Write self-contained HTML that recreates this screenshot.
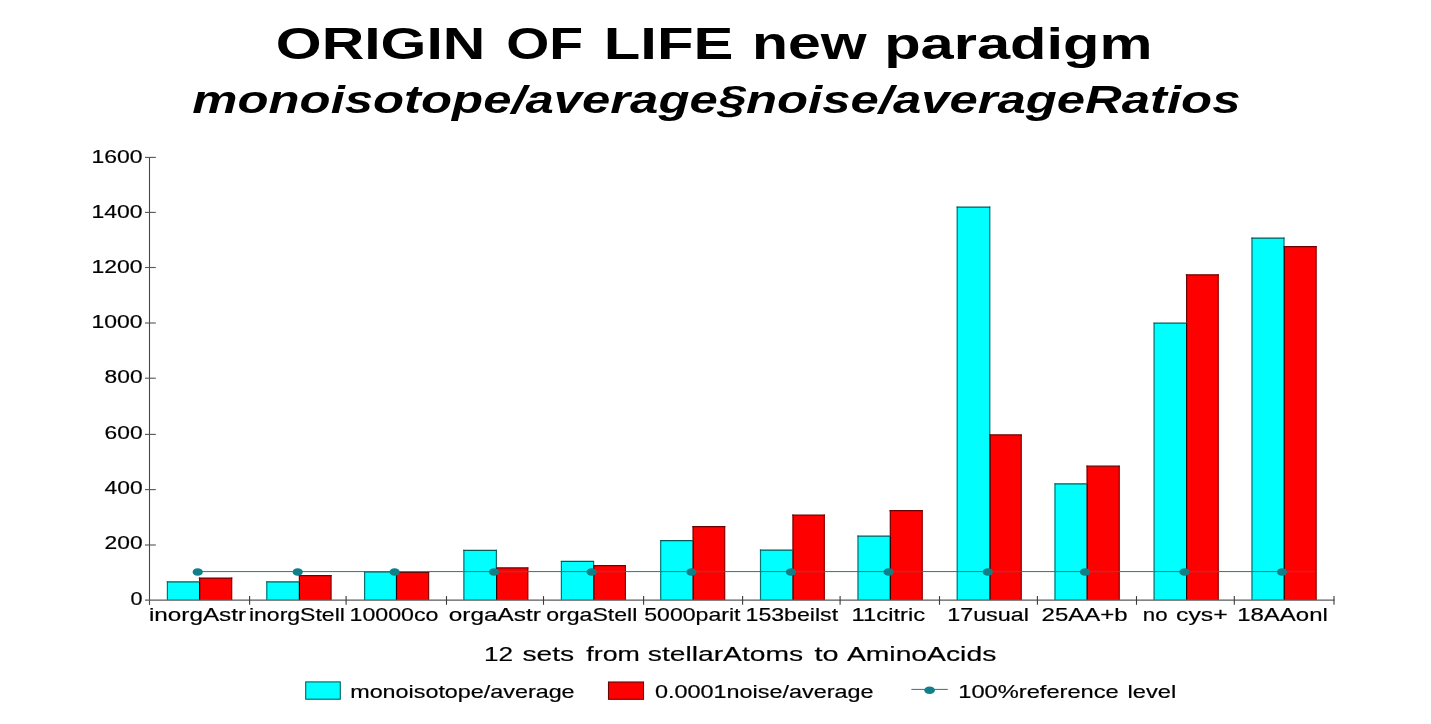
<!DOCTYPE html>
<html><head><meta charset="utf-8"><title>ORIGIN OF LIFE new paradigm</title>
<style>html,body{margin:0;padding:0;background:#fff;}body{width:1431px;height:724px;overflow:hidden;}svg{display:block;will-change:transform;}text{font-family:"Liberation Sans",sans-serif;fill:#000;}</style></head><body>
<svg width="1431" height="724" viewBox="0 0 1431 724">
<rect x="0" y="0" width="1431" height="724" fill="#ffffff"/>
<text transform="translate(275.80,58.70) scale(1.3016,1)" font-weight="bold" font-size="45.3">ORIGIN</text>
<text transform="translate(506.18,58.70) scale(1.2216,1)" font-weight="bold" font-size="45.3">OF</text>
<text transform="translate(603.74,58.70) scale(1.3202,1)" font-weight="bold" font-size="45.3">LIFE</text>
<text transform="translate(752.10,58.70) scale(1.3009,1)" font-weight="bold" font-size="45.3">new</text>
<text transform="translate(884.17,58.70) scale(1.3161,1)" font-weight="bold" font-size="45.3">paradigm</text>
<text transform="translate(192.30,112.70) scale(1.3380,1)" font-weight="bold" font-style="italic" font-size="38">monoisotope/average§noise/averageRatios</text>
<text transform="translate(130.60,604.65) scale(1.2000,1)" font-size="18" stroke="#000" stroke-width="0.18">0</text>
<text transform="translate(104.60,549.20) scale(1.2658,1)" font-size="18" stroke="#000" stroke-width="0.18">200</text>
<text transform="translate(104.60,494.20) scale(1.2658,1)" font-size="18" stroke="#000" stroke-width="0.18">400</text>
<text transform="translate(104.60,439.20) scale(1.2658,1)" font-size="18" stroke="#000" stroke-width="0.18">600</text>
<text transform="translate(104.60,382.70) scale(1.2658,1)" font-size="18" stroke="#000" stroke-width="0.18">800</text>
<text transform="translate(91.52,327.70) scale(1.2759,1)" font-size="18" stroke="#000" stroke-width="0.18">1000</text>
<text transform="translate(91.52,272.70) scale(1.2759,1)" font-size="18" stroke="#000" stroke-width="0.18">1200</text>
<text transform="translate(91.52,217.70) scale(1.2759,1)" font-size="18" stroke="#000" stroke-width="0.18">1400</text>
<text transform="translate(91.52,162.70) scale(1.2759,1)" font-size="18" stroke="#000" stroke-width="0.18">1600</text>
<text transform="translate(148.95,620.60) scale(1.3487,1)" font-size="18" stroke="#000" stroke-width="0.18">inorgAstr</text>
<text transform="translate(248.92,620.60) scale(1.2787,1)" font-size="18" stroke="#000" stroke-width="0.18">inorgStell</text>
<text transform="translate(349.51,620.60) scale(1.2872,1)" font-size="18" stroke="#000" stroke-width="0.18">10000co</text>
<text transform="translate(448.70,620.60) scale(1.3552,1)" font-size="18" stroke="#000" stroke-width="0.18">orgaAstr</text>
<text transform="translate(546.15,620.60) scale(1.2842,1)" font-size="18" stroke="#000" stroke-width="0.18">orgaStell</text>
<text transform="translate(644.20,620.60) scale(1.2843,1)" font-size="18" stroke="#000" stroke-width="0.18">5000parit</text>
<text transform="translate(745.51,620.60) scale(1.2864,1)" font-size="18" stroke="#000" stroke-width="0.18">153beilst</text>
<text transform="translate(851.58,620.60) scale(1.3204,1)" font-size="18" stroke="#000" stroke-width="0.18">11citric</text>
<text transform="translate(947.20,620.60) scale(1.2956,1)" font-size="18" stroke="#000" stroke-width="0.18">17usual</text>
<text transform="translate(1041.60,620.60) scale(1.3340,1)" font-size="18" stroke="#000" stroke-width="0.18">25AA+b</text>
<text transform="translate(1142.86,620.60) scale(1.2361,1)" font-size="18" stroke="#000" stroke-width="0.18">no</text>
<text transform="translate(1176.10,620.60) scale(1.3757,1)" font-size="18" stroke="#000" stroke-width="0.18">cys+</text>
<text transform="translate(1237.17,620.60) scale(1.3337,1)" font-size="18" stroke="#000" stroke-width="0.18">18AAonl</text>
<text transform="translate(484.04,661.10) scale(1.2612,1)" font-size="20.8" stroke="#000" stroke-width="0.18">12</text>
<text transform="translate(522.50,661.10) scale(1.3566,1)" font-size="20.8" stroke="#000" stroke-width="0.18">sets</text>
<text transform="translate(586.30,661.10) scale(1.2888,1)" font-size="20.8" stroke="#000" stroke-width="0.18">from</text>
<text transform="translate(647.80,661.10) scale(1.3577,1)" font-size="20.8" stroke="#000" stroke-width="0.18">stellarAtoms</text>
<text transform="translate(814.50,661.10) scale(1.3887,1)" font-size="20.8" stroke="#000" stroke-width="0.18">to</text>
<text transform="translate(846.90,661.10) scale(1.3610,1)" font-size="20.8" stroke="#000" stroke-width="0.18">AminoAcids</text>
<text transform="translate(350.20,697.80) scale(1.2974,1)" font-size="18" stroke="#000" stroke-width="0.18">monoisotope/average</text>
<text transform="translate(654.90,697.80) scale(1.3008,1)" font-size="18" stroke="#000" stroke-width="0.18">0.0001noise/average</text>
<text transform="translate(958.28,697.80) scale(1.3158,1)" font-size="18" stroke="#000" stroke-width="0.18">100%reference</text>
<text transform="translate(1127.48,697.80) scale(1.3164,1)" font-size="18" stroke="#000" stroke-width="0.18">level</text>
<rect x="167.1" y="581.9" width="32.2" height="18.1" fill="#00ffff"/>
<rect x="199.3" y="578.0" width="32.7" height="22.0" fill="#ff0000"/>
<line x1="167.4" y1="581.4" x2="167.4" y2="600.0" stroke="#087474" stroke-width="1.2"/>
<line x1="231.7" y1="577.5" x2="231.7" y2="600.0" stroke="#8a0404" stroke-width="1.2"/>
<line x1="199.6" y1="581.4" x2="199.6" y2="600.0" stroke="#240404" stroke-width="1.2"/>
<line x1="199.6" y1="577.5" x2="199.6" y2="581.4" stroke="#700404" stroke-width="1.2"/>
<line x1="166.8" y1="581.9" x2="199.8" y2="581.9" stroke="#085858" stroke-width="1.25"/>
<line x1="198.8" y1="578.0" x2="232.3" y2="578.0" stroke="#6c0202" stroke-width="1.25"/>
<rect x="266.5" y="581.9" width="32.6" height="18.1" fill="#00ffff"/>
<rect x="299.1" y="575.6" width="32.2" height="24.4" fill="#ff0000"/>
<line x1="266.8" y1="581.4" x2="266.8" y2="600.0" stroke="#087474" stroke-width="1.2"/>
<line x1="331.0" y1="575.1" x2="331.0" y2="600.0" stroke="#8a0404" stroke-width="1.2"/>
<line x1="299.4" y1="581.4" x2="299.4" y2="600.0" stroke="#240404" stroke-width="1.2"/>
<line x1="299.4" y1="575.1" x2="299.4" y2="581.4" stroke="#700404" stroke-width="1.2"/>
<line x1="266.2" y1="581.9" x2="299.6" y2="581.9" stroke="#085858" stroke-width="1.25"/>
<line x1="298.6" y1="575.6" x2="331.6" y2="575.6" stroke="#6c0202" stroke-width="1.25"/>
<rect x="364.3" y="571.8" width="31.9" height="28.2" fill="#00ffff"/>
<rect x="396.2" y="572.3" width="32.7" height="27.7" fill="#ff0000"/>
<line x1="364.6" y1="571.3" x2="364.6" y2="600.0" stroke="#087474" stroke-width="1.2"/>
<line x1="428.6" y1="571.8" x2="428.6" y2="600.0" stroke="#8a0404" stroke-width="1.2"/>
<line x1="396.5" y1="571.8" x2="396.5" y2="600.0" stroke="#240404" stroke-width="1.2"/>
<line x1="396.3" y1="571.3" x2="396.3" y2="571.8" stroke="#0a6c6c" stroke-width="1.2"/>
<line x1="364.0" y1="571.8" x2="396.7" y2="571.8" stroke="#085858" stroke-width="1.25"/>
<line x1="395.7" y1="572.3" x2="429.2" y2="572.3" stroke="#6c0202" stroke-width="1.25"/>
<rect x="463.6" y="550.3" width="32.7" height="49.7" fill="#00ffff"/>
<rect x="496.3" y="567.9" width="31.8" height="32.1" fill="#ff0000"/>
<line x1="463.9" y1="549.8" x2="463.9" y2="600.0" stroke="#087474" stroke-width="1.2"/>
<line x1="527.8" y1="567.4" x2="527.8" y2="600.0" stroke="#8a0404" stroke-width="1.2"/>
<line x1="496.6" y1="567.4" x2="496.6" y2="600.0" stroke="#240404" stroke-width="1.2"/>
<line x1="496.4" y1="549.8" x2="496.4" y2="567.4" stroke="#0a6c6c" stroke-width="1.2"/>
<line x1="463.3" y1="550.3" x2="496.8" y2="550.3" stroke="#085858" stroke-width="1.25"/>
<line x1="495.8" y1="567.9" x2="528.4" y2="567.9" stroke="#6c0202" stroke-width="1.25"/>
<rect x="561.1" y="561.4" width="32.4" height="38.6" fill="#00ffff"/>
<rect x="593.5" y="565.6" width="32.2" height="34.4" fill="#ff0000"/>
<line x1="561.4" y1="560.9" x2="561.4" y2="600.0" stroke="#087474" stroke-width="1.2"/>
<line x1="625.4" y1="565.1" x2="625.4" y2="600.0" stroke="#8a0404" stroke-width="1.2"/>
<line x1="593.8" y1="565.1" x2="593.8" y2="600.0" stroke="#240404" stroke-width="1.2"/>
<line x1="593.6" y1="560.9" x2="593.6" y2="565.1" stroke="#0a6c6c" stroke-width="1.2"/>
<line x1="560.8" y1="561.4" x2="594.0" y2="561.4" stroke="#085858" stroke-width="1.25"/>
<line x1="593.0" y1="565.6" x2="626.0" y2="565.6" stroke="#6c0202" stroke-width="1.25"/>
<rect x="660.4" y="540.5" width="32.4" height="59.5" fill="#00ffff"/>
<rect x="692.8" y="526.5" width="32.2" height="73.5" fill="#ff0000"/>
<line x1="660.7" y1="540.0" x2="660.7" y2="600.0" stroke="#087474" stroke-width="1.2"/>
<line x1="724.7" y1="526.0" x2="724.7" y2="600.0" stroke="#8a0404" stroke-width="1.2"/>
<line x1="693.1" y1="540.0" x2="693.1" y2="600.0" stroke="#240404" stroke-width="1.2"/>
<line x1="693.1" y1="526.0" x2="693.1" y2="540.0" stroke="#700404" stroke-width="1.2"/>
<line x1="660.1" y1="540.5" x2="693.3" y2="540.5" stroke="#085858" stroke-width="1.25"/>
<line x1="692.3" y1="526.5" x2="725.3" y2="526.5" stroke="#6c0202" stroke-width="1.25"/>
<rect x="760.2" y="550.0" width="32.5" height="50.0" fill="#00ffff"/>
<rect x="792.7" y="515.1" width="31.9" height="84.9" fill="#ff0000"/>
<line x1="760.5" y1="549.5" x2="760.5" y2="600.0" stroke="#087474" stroke-width="1.2"/>
<line x1="824.3" y1="514.6" x2="824.3" y2="600.0" stroke="#8a0404" stroke-width="1.2"/>
<line x1="793.0" y1="549.5" x2="793.0" y2="600.0" stroke="#240404" stroke-width="1.2"/>
<line x1="793.0" y1="514.6" x2="793.0" y2="549.5" stroke="#700404" stroke-width="1.2"/>
<line x1="759.9" y1="550.0" x2="793.2" y2="550.0" stroke="#085858" stroke-width="1.25"/>
<line x1="792.2" y1="515.1" x2="824.9" y2="515.1" stroke="#6c0202" stroke-width="1.25"/>
<rect x="857.7" y="536.1" width="32.3" height="63.9" fill="#00ffff"/>
<rect x="890.0" y="510.6" width="32.5" height="89.4" fill="#ff0000"/>
<line x1="858.0" y1="535.6" x2="858.0" y2="600.0" stroke="#087474" stroke-width="1.2"/>
<line x1="922.2" y1="510.1" x2="922.2" y2="600.0" stroke="#8a0404" stroke-width="1.2"/>
<line x1="890.3" y1="535.6" x2="890.3" y2="600.0" stroke="#240404" stroke-width="1.2"/>
<line x1="890.3" y1="510.1" x2="890.3" y2="535.6" stroke="#700404" stroke-width="1.2"/>
<line x1="857.4" y1="536.1" x2="890.5" y2="536.1" stroke="#085858" stroke-width="1.25"/>
<line x1="889.5" y1="510.6" x2="922.8" y2="510.6" stroke="#6c0202" stroke-width="1.25"/>
<rect x="956.9" y="207.0" width="32.8" height="393.0" fill="#00ffff"/>
<rect x="989.7" y="434.9" width="31.8" height="165.1" fill="#ff0000"/>
<line x1="957.2" y1="206.5" x2="957.2" y2="600.0" stroke="#087474" stroke-width="1.2"/>
<line x1="1021.2" y1="434.4" x2="1021.2" y2="600.0" stroke="#8a0404" stroke-width="1.2"/>
<line x1="990.0" y1="434.4" x2="990.0" y2="600.0" stroke="#240404" stroke-width="1.2"/>
<line x1="989.8" y1="206.5" x2="989.8" y2="434.4" stroke="#0a6c6c" stroke-width="1.2"/>
<line x1="956.6" y1="207.0" x2="990.2" y2="207.0" stroke="#085858" stroke-width="1.25"/>
<line x1="989.2" y1="434.9" x2="1021.8" y2="434.9" stroke="#6c0202" stroke-width="1.25"/>
<rect x="1054.7" y="483.9" width="32.1" height="116.1" fill="#00ffff"/>
<rect x="1086.8" y="466.2" width="32.7" height="133.8" fill="#ff0000"/>
<line x1="1055.0" y1="483.4" x2="1055.0" y2="600.0" stroke="#087474" stroke-width="1.2"/>
<line x1="1119.2" y1="465.8" x2="1119.2" y2="600.0" stroke="#8a0404" stroke-width="1.2"/>
<line x1="1087.1" y1="483.4" x2="1087.1" y2="600.0" stroke="#240404" stroke-width="1.2"/>
<line x1="1087.1" y1="465.8" x2="1087.1" y2="483.4" stroke="#700404" stroke-width="1.2"/>
<line x1="1054.4" y1="483.9" x2="1087.3" y2="483.9" stroke="#085858" stroke-width="1.25"/>
<line x1="1086.3" y1="466.2" x2="1119.8" y2="466.2" stroke="#6c0202" stroke-width="1.25"/>
<rect x="1153.8" y="323.2" width="32.5" height="276.8" fill="#00ffff"/>
<rect x="1186.3" y="274.8" width="32.2" height="325.2" fill="#ff0000"/>
<line x1="1154.1" y1="322.7" x2="1154.1" y2="600.0" stroke="#087474" stroke-width="1.2"/>
<line x1="1218.2" y1="274.2" x2="1218.2" y2="600.0" stroke="#8a0404" stroke-width="1.2"/>
<line x1="1186.6" y1="322.7" x2="1186.6" y2="600.0" stroke="#240404" stroke-width="1.2"/>
<line x1="1186.6" y1="274.2" x2="1186.6" y2="322.7" stroke="#700404" stroke-width="1.2"/>
<line x1="1153.5" y1="323.2" x2="1186.8" y2="323.2" stroke="#085858" stroke-width="1.25"/>
<line x1="1185.8" y1="274.8" x2="1218.8" y2="274.8" stroke="#6c0202" stroke-width="1.25"/>
<rect x="1251.7" y="238.0" width="32.2" height="362.0" fill="#00ffff"/>
<rect x="1283.9" y="246.6" width="32.5" height="353.4" fill="#ff0000"/>
<line x1="1252.0" y1="237.5" x2="1252.0" y2="600.0" stroke="#087474" stroke-width="1.2"/>
<line x1="1316.1" y1="246.1" x2="1316.1" y2="600.0" stroke="#8a0404" stroke-width="1.2"/>
<line x1="1284.2" y1="246.1" x2="1284.2" y2="600.0" stroke="#240404" stroke-width="1.2"/>
<line x1="1284.0" y1="237.5" x2="1284.0" y2="246.1" stroke="#0a6c6c" stroke-width="1.2"/>
<line x1="1251.4" y1="238.0" x2="1284.4" y2="238.0" stroke="#085858" stroke-width="1.25"/>
<line x1="1283.4" y1="246.6" x2="1316.7" y2="246.6" stroke="#6c0202" stroke-width="1.25"/>
<line x1="149.5" y1="157" x2="149.5" y2="605" stroke="#484848" stroke-width="1.1"/>
<line x1="145" y1="600.0" x2="1334.5" y2="600.0" stroke="#5a5a5a" stroke-width="1.25"/>
<line x1="145" y1="545.0" x2="155.8" y2="545.0" stroke="#555" stroke-width="1.1"/>
<line x1="145" y1="489.6" x2="155.8" y2="489.6" stroke="#555" stroke-width="1.1"/>
<line x1="145" y1="434.4" x2="155.8" y2="434.4" stroke="#555" stroke-width="1.1"/>
<line x1="145" y1="378.2" x2="155.8" y2="378.2" stroke="#555" stroke-width="1.1"/>
<line x1="145" y1="323.0" x2="155.8" y2="323.0" stroke="#555" stroke-width="1.1"/>
<line x1="145" y1="267.5" x2="155.8" y2="267.5" stroke="#555" stroke-width="1.1"/>
<line x1="145" y1="212.4" x2="155.8" y2="212.4" stroke="#555" stroke-width="1.1"/>
<line x1="145" y1="157.4" x2="155.8" y2="157.4" stroke="#555" stroke-width="1.1"/>
<line x1="249.6" y1="596.1" x2="249.6" y2="604.8" stroke="#3a3a3a" stroke-width="1.1"/>
<line x1="346.1" y1="596.1" x2="346.1" y2="604.8" stroke="#3a3a3a" stroke-width="1.1"/>
<line x1="446.5" y1="596.1" x2="446.5" y2="604.8" stroke="#3a3a3a" stroke-width="1.1"/>
<line x1="543.5" y1="596.1" x2="543.5" y2="604.8" stroke="#3a3a3a" stroke-width="1.1"/>
<line x1="643.6" y1="596.1" x2="643.6" y2="604.8" stroke="#3a3a3a" stroke-width="1.1"/>
<line x1="742.6" y1="596.1" x2="742.6" y2="604.8" stroke="#3a3a3a" stroke-width="1.1"/>
<line x1="840.1" y1="596.1" x2="840.1" y2="604.8" stroke="#3a3a3a" stroke-width="1.1"/>
<line x1="939.5" y1="596.1" x2="939.5" y2="604.8" stroke="#3a3a3a" stroke-width="1.1"/>
<line x1="1037.4" y1="596.1" x2="1037.4" y2="604.8" stroke="#3a3a3a" stroke-width="1.1"/>
<line x1="1136.5" y1="596.1" x2="1136.5" y2="604.8" stroke="#3a3a3a" stroke-width="1.1"/>
<line x1="1234.3" y1="596.1" x2="1234.3" y2="604.8" stroke="#3a3a3a" stroke-width="1.1"/>
<line x1="1334.0" y1="596.1" x2="1334.0" y2="604.8" stroke="#3a3a3a" stroke-width="1.1"/>
<line x1="197.7" y1="571.6" x2="1282.0" y2="571.6" stroke="#2c7478" stroke-width="1"/>
<line x1="497.3" y1="571.6" x2="527.1" y2="571.6" stroke="#e01c1c" stroke-width="1.5"/>
<line x1="594.5" y1="571.6" x2="624.7" y2="571.6" stroke="#e01c1c" stroke-width="1.5"/>
<line x1="693.8" y1="571.6" x2="724.0" y2="571.6" stroke="#e01c1c" stroke-width="1.5"/>
<line x1="793.7" y1="571.6" x2="823.6" y2="571.6" stroke="#e01c1c" stroke-width="1.5"/>
<line x1="891.0" y1="571.6" x2="921.5" y2="571.6" stroke="#e01c1c" stroke-width="1.5"/>
<line x1="990.7" y1="571.6" x2="1020.5" y2="571.6" stroke="#e01c1c" stroke-width="1.5"/>
<line x1="1087.8" y1="571.6" x2="1118.5" y2="571.6" stroke="#e01c1c" stroke-width="1.5"/>
<line x1="1187.3" y1="571.6" x2="1217.5" y2="571.6" stroke="#e01c1c" stroke-width="1.5"/>
<line x1="1284.9" y1="571.6" x2="1315.4" y2="571.6" stroke="#e01c1c" stroke-width="1.5"/>
<ellipse cx="197.7" cy="572.0" rx="5.1" ry="3.8" fill="#108088"/>
<ellipse cx="297.7" cy="572.0" rx="5.1" ry="3.8" fill="#108088"/>
<ellipse cx="394.6" cy="572.0" rx="5.1" ry="3.8" fill="#108088"/>
<ellipse cx="494.0" cy="572.0" rx="5.1" ry="3.8" fill="#108088"/>
<ellipse cx="591.6" cy="572.0" rx="5.1" ry="3.8" fill="#108088"/>
<ellipse cx="691.4" cy="572.0" rx="5.1" ry="3.8" fill="#108088"/>
<ellipse cx="791.0" cy="572.0" rx="5.1" ry="3.8" fill="#108088"/>
<ellipse cx="888.6" cy="572.0" rx="5.1" ry="3.8" fill="#108088"/>
<ellipse cx="987.8" cy="572.0" rx="5.1" ry="3.8" fill="#108088"/>
<ellipse cx="1085.0" cy="572.0" rx="5.1" ry="3.8" fill="#108088"/>
<ellipse cx="1184.5" cy="572.0" rx="5.1" ry="3.8" fill="#108088"/>
<ellipse cx="1282.0" cy="572.0" rx="5.1" ry="3.8" fill="#108088"/>
<rect x="305.7" y="681.9" width="34.6" height="17.3" fill="#00ffff" stroke="#066060" stroke-width="1.1"/>
<rect x="608.5" y="682" width="35" height="17.3" fill="#ff0000" stroke="#6a0404" stroke-width="1.1"/>
<line x1="911.4" y1="689.4" x2="947.8" y2="689.4" stroke="#2c7478" stroke-width="1"/>
<ellipse cx="929.6" cy="690.2" rx="5.3" ry="3.8" fill="#108088"/>
</svg></body></html>
